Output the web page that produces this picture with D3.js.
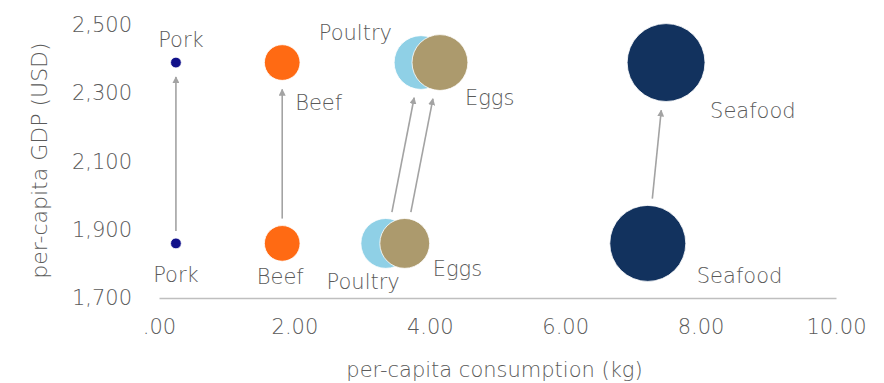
<!DOCTYPE html>
<html>
<head>
<meta charset="utf-8">
<script src="https://cdn.jsdelivr.net/npm/d3@7"></script>
<style>
  html, body { margin: 0; padding: 0; background: #ffffff; }
  svg { display: block; }
  text { font-family: "DejaVu Sans", Verdana, sans-serif; font-weight: 200; fill: #5a5a5a; }
</style>
</head>
<body>
<div id="chart"></div>
<script>
// ---- data ----
const categories = ["Pork", "Beef", "Poultry", "Eggs", "Seafood"];
const consumptionBefore = [0.25, 1.82, 3.35, 3.63, 7.22];
const consumptionAfter  = [0.25, 1.82, 3.87, 4.15, 7.49];
const gdpBefore = [1860, 1860, 1860, 1860, 1860];
const gdpAfter  = [2390, 2390, 2390, 2390, 2390];
const bubbleSizeBefore = [2, 22, 43, 43, 100];
const bubbleSizeAfter  = [2, 22, 50, 54, 105];
const seriesColors = ["#10108a", "#ff6a13", "#8fd0e6", "#ac9a6d", "#12325e"];
const xTickValues = [0, 2, 4, 6, 8, 10];
const xTickLabels = [".00", "2.00", "4.00", "6.00", "8.00", "10.00"];
const yTickValues = [1700, 1900, 2100, 2300, 2500];
const yTickLabels = ["1,700", "1,900", "2,100", "2,300", "2,500"];
const xTitle = "per-capita consumption (kg)";
const yTitle = "per-capita GDP (USD)";

// ---- layout ----
const W = 884, H = 383;
const FS = 21;
const svg = d3.select("#chart").append("svg").attr("width", W).attr("height", H);

const x = d3.scaleLinear().domain([0, 10]).range([159, 836]);
const y = d3.scaleLinear().domain([1700, 2500]).range([298, 25]);
const r = d3.scaleSqrt().domain([0, 100]).range([0, 38]);

// label placement relative to bubble centre (styling)
const labelPlace = {
  before: {
    Pork:    {dx: 0,   dy: 39, anchor: "middle"},
    Beef:    {dx: -2,  dy: 41, anchor: "middle"},
    Poultry: {dx: 14,  dy: 46, anchor: "end"},
    Eggs:    {dx: 28,  dy: 33, anchor: "start"},
    Seafood: {dx: 49,  dy: 40, anchor: "start"}
  },
  after: {
    Pork:    {dx: 5,   dy: -16, anchor: "middle"},
    Beef:    {dx: 13,  dy: 47, anchor: "start"},
    Poultry: {dx: -29, dy: -23, anchor: "end"},
    Eggs:    {dx: 25,  dy: 42, anchor: "start"},
    Seafood: {dx: 44,  dy: 55, anchor: "start"}
  }
};

const data = categories.map((c, i) => ({
  name: c,
  color: seriesColors[i],
  x0: consumptionBefore[i], y0: gdpBefore[i], s0: bubbleSizeBefore[i],
  x1: consumptionAfter[i],  y1: gdpAfter[i],  s1: bubbleSizeAfter[i]
}));

// ---- axes ----
const xAxis = d3.axisBottom(x).tickValues(xTickValues)
  .tickFormat((d, i) => xTickLabels[i]).tickSize(0).tickSizeOuter(0);
const gx = svg.append("g").attr("transform", `translate(0,${y(1700)})`).call(xAxis);
gx.select(".domain").attr("stroke", "#bfbfbf").attr("stroke-width", 1.6);
gx.selectAll(".tick text").attr("y", 36).attr("dy", 0)
  .style("font-size", FS + "px").attr("fill", "#5a5a5a");

const yAxis = d3.axisLeft(y).tickValues(yTickValues)
  .tickFormat((d, i) => yTickLabels[i]).tickSize(0).tickPadding(0);
const gy = svg.append("g").attr("transform", `translate(132,0)`).call(yAxis);
gy.select(".domain").remove();
gy.selectAll("text").style("font-size", FS + "px").attr("fill", "#5a5a5a");

svg.append("text")
  .attr("x", (x.range()[0] + x.range()[1]) / 2 - 3).attr("y", 377)
  .attr("text-anchor", "middle").style("font-size", FS + "px")
  .text(xTitle);

svg.append("text")
  .attr("transform", `translate(47,${(y.range()[0] + y.range()[1]) / 2 - 1}) rotate(-90)`)
  .attr("text-anchor", "middle").style("font-size", "22px")
  .text(yTitle);

// ---- arrows ----
const defs = svg.append("defs");
defs.append("marker").attr("id", "arrow")
  .attr("viewBox", "0 0 10 10").attr("refX", 9).attr("refY", 5)
  .attr("markerWidth", 7).attr("markerHeight", 7).attr("markerUnits", "userSpaceOnUse")
  .attr("orient", "auto")
  .append("path").attr("d", "M0,0 L10,5 L0,10 Z").attr("fill", "#a3a3a3");

const gap = 7;
svg.append("g").selectAll("line").data(data).join("line")
  .each(function(d) {
    const ax = x(d.x0), ay = y(d.y0), bx = x(d.x1), by = y(d.y1);
    const len = Math.hypot(bx - ax, by - ay);
    const ux = (bx - ax) / len, uy = (by - ay) / len;
    const s = r(d.s0) + gap, e = r(d.s1) + gap + 2;
    d3.select(this)
      .attr("x1", ax + ux * s).attr("y1", ay + uy * s)
      .attr("x2", bx - ux * e).attr("y2", by - uy * e);
  })
  .attr("stroke", "#a3a3a3").attr("stroke-width", 1.6)
  .attr("marker-end", "url(#arrow)");

// ---- bubbles ----
const bubbles = svg.append("g");
bubbles.selectAll("circle.before").data(data).join("circle")
  .attr("class", "before")
  .attr("cx", d => x(d.x0)).attr("cy", d => y(d.y0)).attr("r", d => r(d.s0))
  .attr("fill", d => d.color).attr("stroke", "#ffffff").attr("stroke-width", 0.8);
bubbles.selectAll("circle.after").data(data).join("circle")
  .attr("class", "after")
  .attr("cx", d => x(d.x1)).attr("cy", d => y(d.y1)).attr("r", d => r(d.s1))
  .attr("fill", d => d.color).attr("stroke", "#ffffff").attr("stroke-width", 0.8);

// ---- labels ----
const labels = svg.append("g").style("font-size", FS + "px");
labels.selectAll("text.before").data(data).join("text")
  .attr("class", "before")
  .attr("x", d => x(d.x0) + labelPlace.before[d.name].dx)
  .attr("y", d => y(d.y0) + labelPlace.before[d.name].dy)
  .attr("text-anchor", d => labelPlace.before[d.name].anchor)
  .text(d => d.name);
labels.selectAll("text.after").data(data).join("text")
  .attr("class", "after")
  .attr("x", d => x(d.x1) + labelPlace.after[d.name].dx)
  .attr("y", d => y(d.y1) + labelPlace.after[d.name].dy)
  .attr("text-anchor", d => labelPlace.after[d.name].anchor)
  .text(d => d.name);
</script>
</body>
</html>
